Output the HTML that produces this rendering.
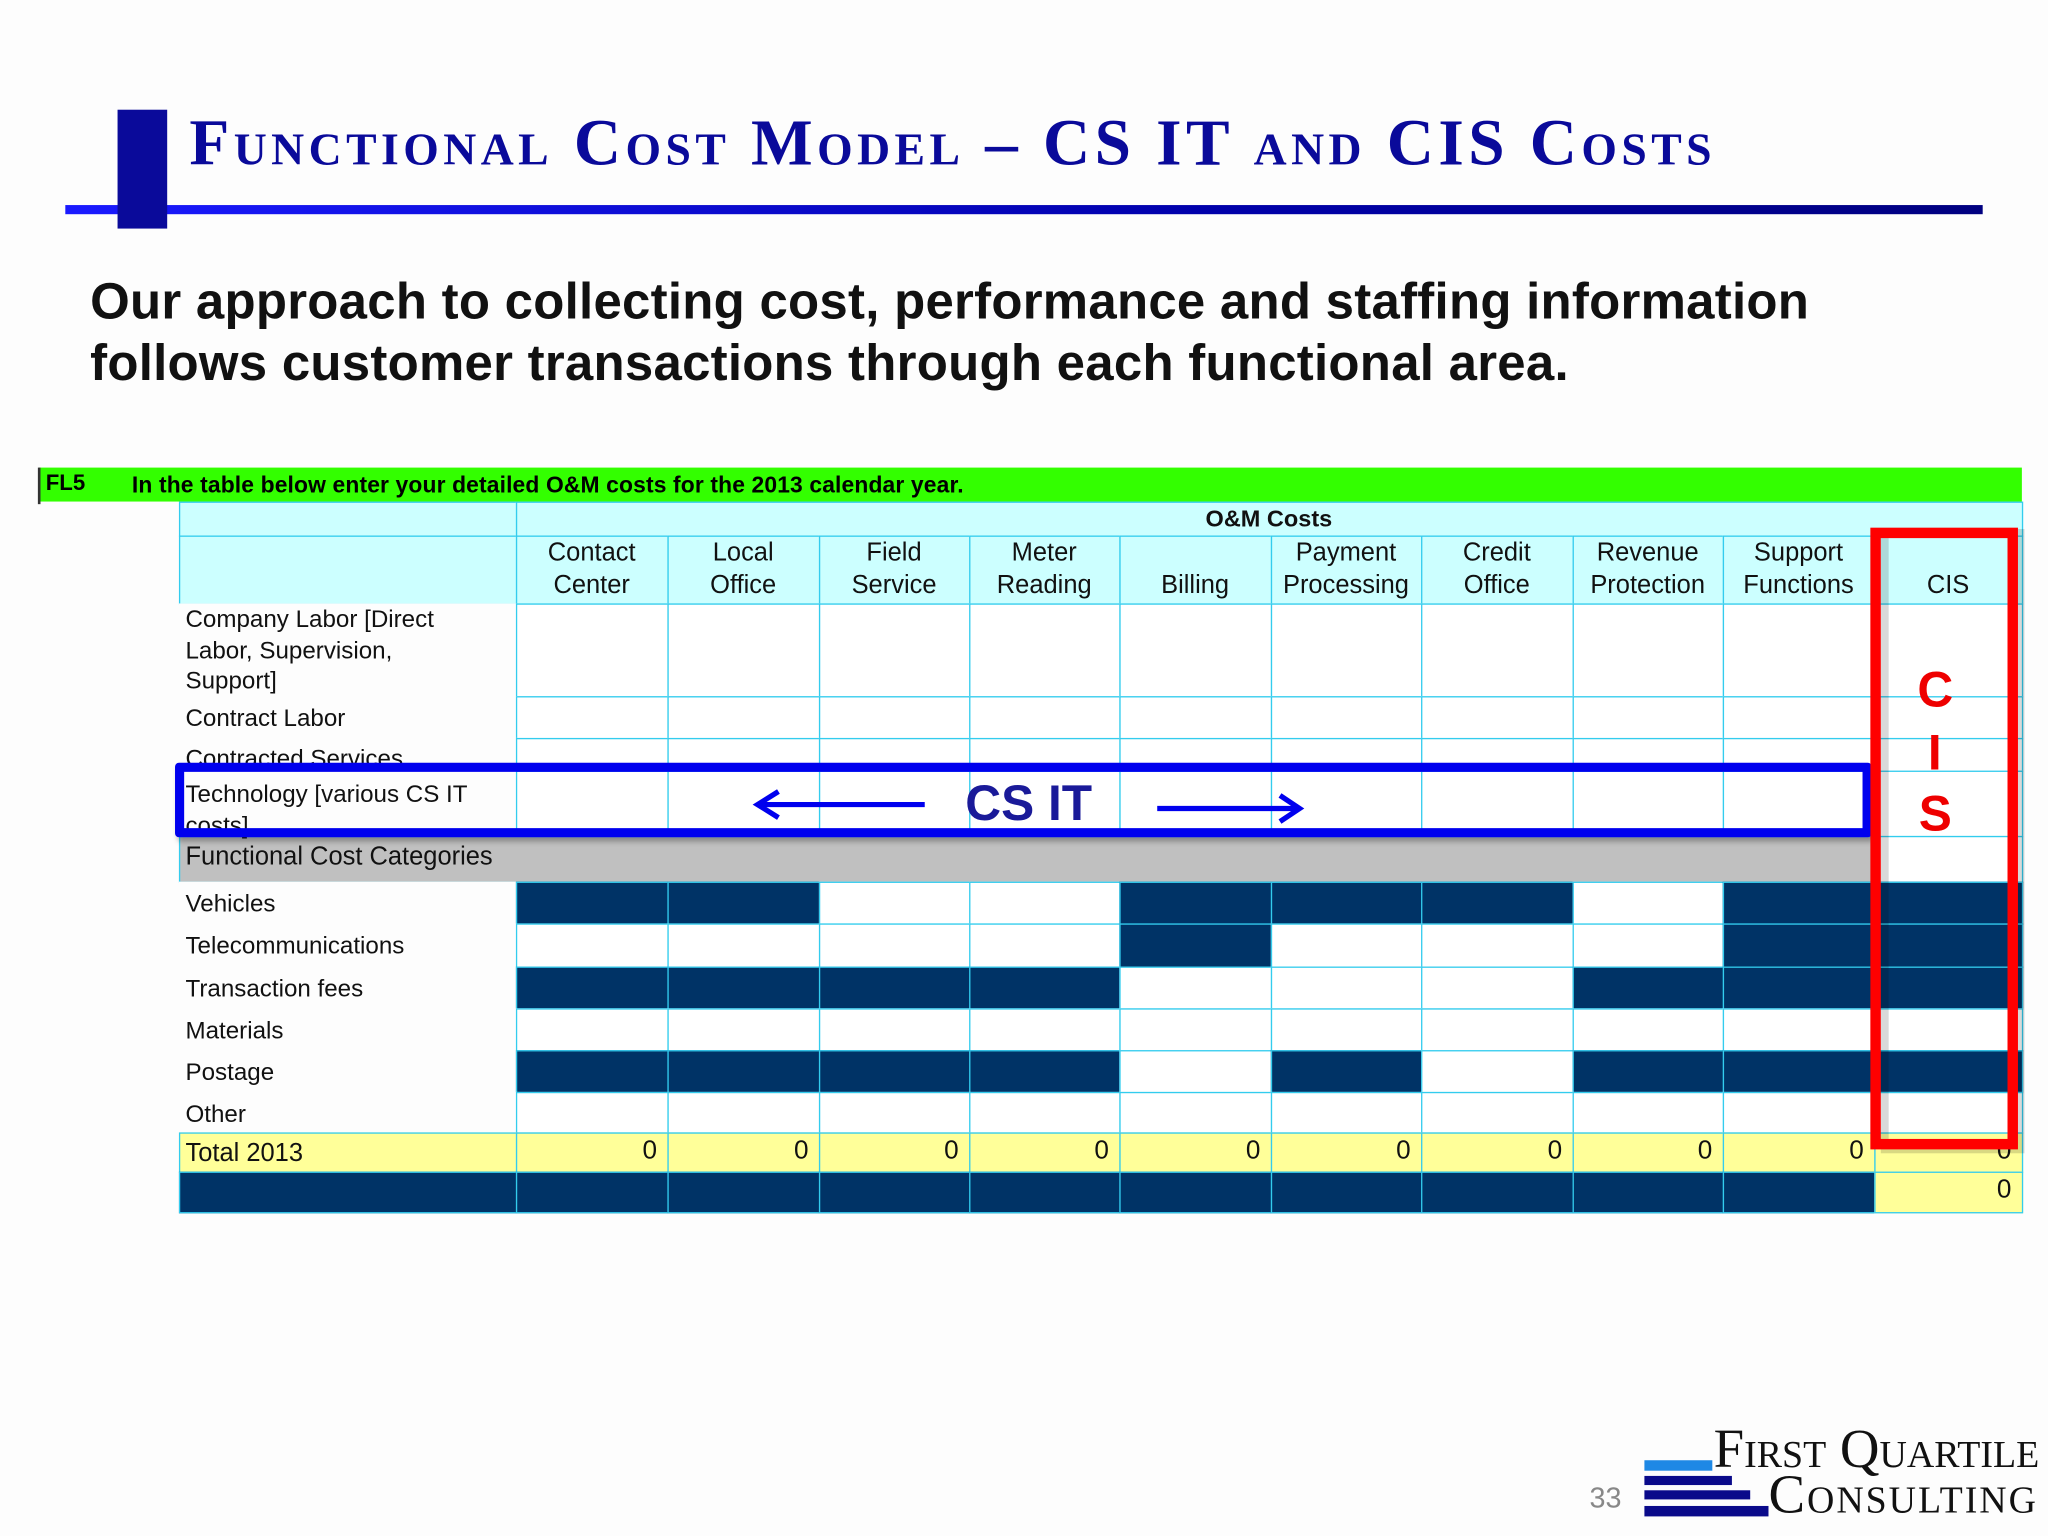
<!DOCTYPE html>
<html><head><meta charset="utf-8">
<style>
html,body{margin:0;padding:0;background:#fff;}
body{width:2048px;height:1536px;overflow:hidden;position:relative;}
#stage{position:absolute;left:0;top:0;width:1568px;height:1176px;transform:scale(1.30612);transform-origin:0 0;background:#fdfdfd;font-family:"Liberation Sans",sans-serif;}
.abs{position:absolute;}
.ov{z-index:10;}
.cell{position:absolute;box-sizing:border-box;border:1px solid #33ccee;}
.txt{position:absolute;font-size:19px;color:#111;white-space:nowrap;z-index:2;}
</style></head><body>
<div id="stage">
  <div class="abs" style="left:90px;top:84px;width:38px;height:91px;background:#0a0a9a;z-index:3;"></div>
  <div class="abs" style="left:50px;top:157px;width:1468px;height:7px;background:linear-gradient(90deg,#1a1aff,#0000aa 60%,#000080);"></div>
  <div class="abs" style="left:145px;top:80px;font-family:'Liberation Serif',serif;font-weight:bold;font-size:50px;font-variant:small-caps;color:#0a0a9a;letter-spacing:3.4px;white-space:nowrap;">Functional Cost Model – CS IT and CIS Costs</div>
  <div class="abs" style="left:69px;top:208px;font-weight:bold;font-size:39px;line-height:47px;color:#111;white-space:nowrap;letter-spacing:0.2px;">Our approach to collecting cost, performance and staffing information<br>follows customer transactions through each functional area.</div>

  <div class="abs" style="left:30px;top:358px;width:1518px;height:26px;background:#33ff00;"></div>
  <div class="abs" style="left:35px;top:360px;font-weight:bold;font-size:17px;">FL5</div>
  <div class="abs" style="left:101px;top:361px;font-weight:bold;font-size:17.5px;white-space:nowrap;letter-spacing:0.1px;">In the table below enter your detailed O&amp;M costs for the 2013 calendar year.</div>
  <div class="abs" style="left:29px;top:358px;width:2px;height:28px;background:#333;"></div>

  <div id="table"></div>

  <div class="abs ov" style="left:134px;top:584px;width:1299px;height:57px;border:7px solid #0000ee;box-sizing:border-box;border-radius:3px;box-shadow:2px 3px 4px rgba(0,0,0,0.3);"></div>
  <div class="abs ov" style="left:739px;top:595px;font-weight:bold;font-size:38px;color:#1a1a99;">CS IT</div>
  <svg class="abs ov" style="left:0;top:0" width="1568" height="1176">
    <g stroke="#0000ee" stroke-width="4" fill="none">
      <line x1="708" y1="616" x2="580" y2="616"/><polyline points="596,606 580,616 596,626"/>
      <line x1="886" y1="619" x2="995" y2="619"/><polyline points="980,609 995,619 980,629"/>
    </g>
  </svg>

  <div class="abs ov" style="left:1440px;top:405px;width:110px;height:478px;border:6px solid rgba(0,0,0,0.15);box-sizing:border-box;"></div>
  <div class="abs ov" style="left:1432px;top:404px;width:113px;height:476px;border:8px solid #ff0000;box-sizing:border-box;"></div>
  <div class="abs ov" style="left:1468px;top:508px;font-weight:bold;font-size:38px;color:#ee0000;">C</div>
  <div class="abs ov" style="left:1476px;top:556px;font-weight:bold;font-size:38px;color:#ee0000;">I</div>
  <div class="abs ov" style="left:1469px;top:603px;font-weight:bold;font-size:38px;color:#ee0000;">S</div>

  <div class="abs" style="left:1217px;top:1134px;font-size:22px;color:#888;">33</div>
  <div class="abs" style="left:1259px;top:1118px;width:52px;height:8px;background:#1e88e5;"></div>
  <div class="abs" style="left:1259px;top:1130px;width:67px;height:7px;background:#0a0a8a;"></div>
  <div class="abs" style="left:1259px;top:1141px;width:81px;height:7px;background:#0a0a8a;"></div>
  <div class="abs" style="left:1259px;top:1153px;width:95px;height:8px;background:#0a0a8a;"></div>
  <div class="abs" style="left:1312px;top:1088px;font-family:'Liberation Serif',serif;font-size:42px;font-variant:small-caps;color:#111;white-space:nowrap;letter-spacing:0px;line-height:44px;">First Quartile</div>
  <div class="abs" style="left:1354px;top:1123px;font-family:'Liberation Serif',serif;font-size:42px;font-variant:small-caps;color:#111;white-space:nowrap;letter-spacing:1.5px;line-height:44px;">Consulting</div>
</div>
<script>
const colEdges=[137,395,511,627,742,857,973,1088,1204,1319,1435,1548];
const columns=[["Contact","Center"],["Local","Office"],["Field","Service"],["Meter","Reading"],["","Billing"],["Payment","Processing"],["Credit","Office"],["Revenue","Protection"],["Support","Functions"],["","CIS"]];
const rowEdges=[384,410,462,533,565,590,640,675,707,740,772,804,836,867,897,928];
const rowLabels=["","","Company Labor [Direct\nLabor, Supervision,\nSupport]","Contract Labor","Contracted Services","Technology [various CS IT\ncosts]","Functional Cost Categories","Vehicles","Telecommunications","Transaction fees","Materials","Postage","Other","Total 2013",""];
const darkVehicles=[0,1,4,5,6,8,9];
const darkTelecom=[4,8,9];
const darkTransaction=[0,1,2,3,7,8,9];
const darkMaterials=[];
const darkPostage=[0,1,2,3,5,7,8,9];
const darkOther=[];
const totals=[0,0,0,0,0,0,0,0,0,0];
const grandTotal=0;
const darkByRow={7:darkVehicles,8:darkTelecom,9:darkTransaction,10:darkMaterials,11:darkPostage,12:darkOther};
const anchor=document.getElementById('table');
const host=anchor.parentNode;
function box(x,y,w,h,bg){const d=document.createElement('div');d.className='cell';d.style.left=x+'px';d.style.top=y+'px';d.style.width=(w+1)+'px';d.style.height=(h+1)+'px';d.style.background=bg;host.insertBefore(d,anchor);return d;}
function text(x,y,s,extra){const t=document.createElement('div');t.className='txt';t.style.left=x+'px';t.style.top=y+'px';t.textContent=s;if(extra)Object.assign(t.style,extra);host.insertBefore(t,anchor);return t;}
const NAVY='#003366',CYAN='#ccffff',YEL='#ffff99';
let d=box(colEdges[0],rowEdges[0],colEdges[1]-colEdges[0],rowEdges[1]-rowEdges[0],CYAN);


d=box(colEdges[1],rowEdges[0],colEdges[11]-colEdges[1],rowEdges[1]-rowEdges[0],CYAN);


let t=text(colEdges[1],rowEdges[0]+3,'O&M Costs',{width:(colEdges[11]-colEdges[1])+'px',textAlign:'center',fontWeight:'bold',fontSize:'18px'});


d=box(colEdges[0],rowEdges[1],colEdges[1]-colEdges[0],rowEdges[2]-rowEdges[1],CYAN);


columns.forEach((c,i)=>{
  const x=colEdges[i+1],w=colEdges[i+2]-x;
  const b=box(x,rowEdges[1],w,rowEdges[2]-rowEdges[1],CYAN);
  
  
  const tt=text(x,rowEdges[1]+1,c[0]+'\n'+c[1],{width:w+'px',textAlign:'center',whiteSpace:'pre',lineHeight:'25px',fontSize:'19.5px'});
  
  
});
for(let r=2;r<rowLabels.length;r++){
  const y=rowEdges[r],h=rowEdges[r+1]-y;
  if(r===6){
    const g=box(colEdges[0],y,colEdges[10]-colEdges[0],h,'#c0c0c0');
    
    
    const g2=box(colEdges[10],y,colEdges[11]-colEdges[10],h,'#ffffff');
    
    
  } else {
    const lb=box(colEdges[0],y,colEdges[1]-colEdges[0],h,r===13?YEL:(r===14?NAVY:'#fdfdfd'));
    
    
    if(r<13) lb.style.borderColor='transparent';
    for(let c=0;c<10;c++){
      let bg='#ffffff';
      if(darkByRow[r]&&darkByRow[r].includes(c))bg=NAVY;
      if(r===13)bg=YEL;
      if(r===14)bg=(c===9?YEL:NAVY);
      const cell=box(colEdges[c+1],y,colEdges[c+2]-colEdges[c+1],h,bg);
      
      
      if(r===13||(r===14&&c===9)){
        const v=(r===13?totals[c]:grandTotal);
        const vt=text(colEdges[c+1],y+3,String(v),{width:(colEdges[c+2]-colEdges[c+1]-8)+'px',textAlign:'right',fontSize:'20px'});
        
        
      }
    }
  }
  if(rowLabels[r]){
    const lt=text(colEdges[0]+5,y+(r===2?0:(r===5?6:(r===4?4:5))),rowLabels[r],{whiteSpace:'pre',lineHeight:'23.5px',fontSize:(r===6||r===13?'19.5px':'18.5px')});
    
    
    if(r===4){lt.style.height='16px';lt.style.overflow='hidden';}
  }
}
</script>
</body></html>
